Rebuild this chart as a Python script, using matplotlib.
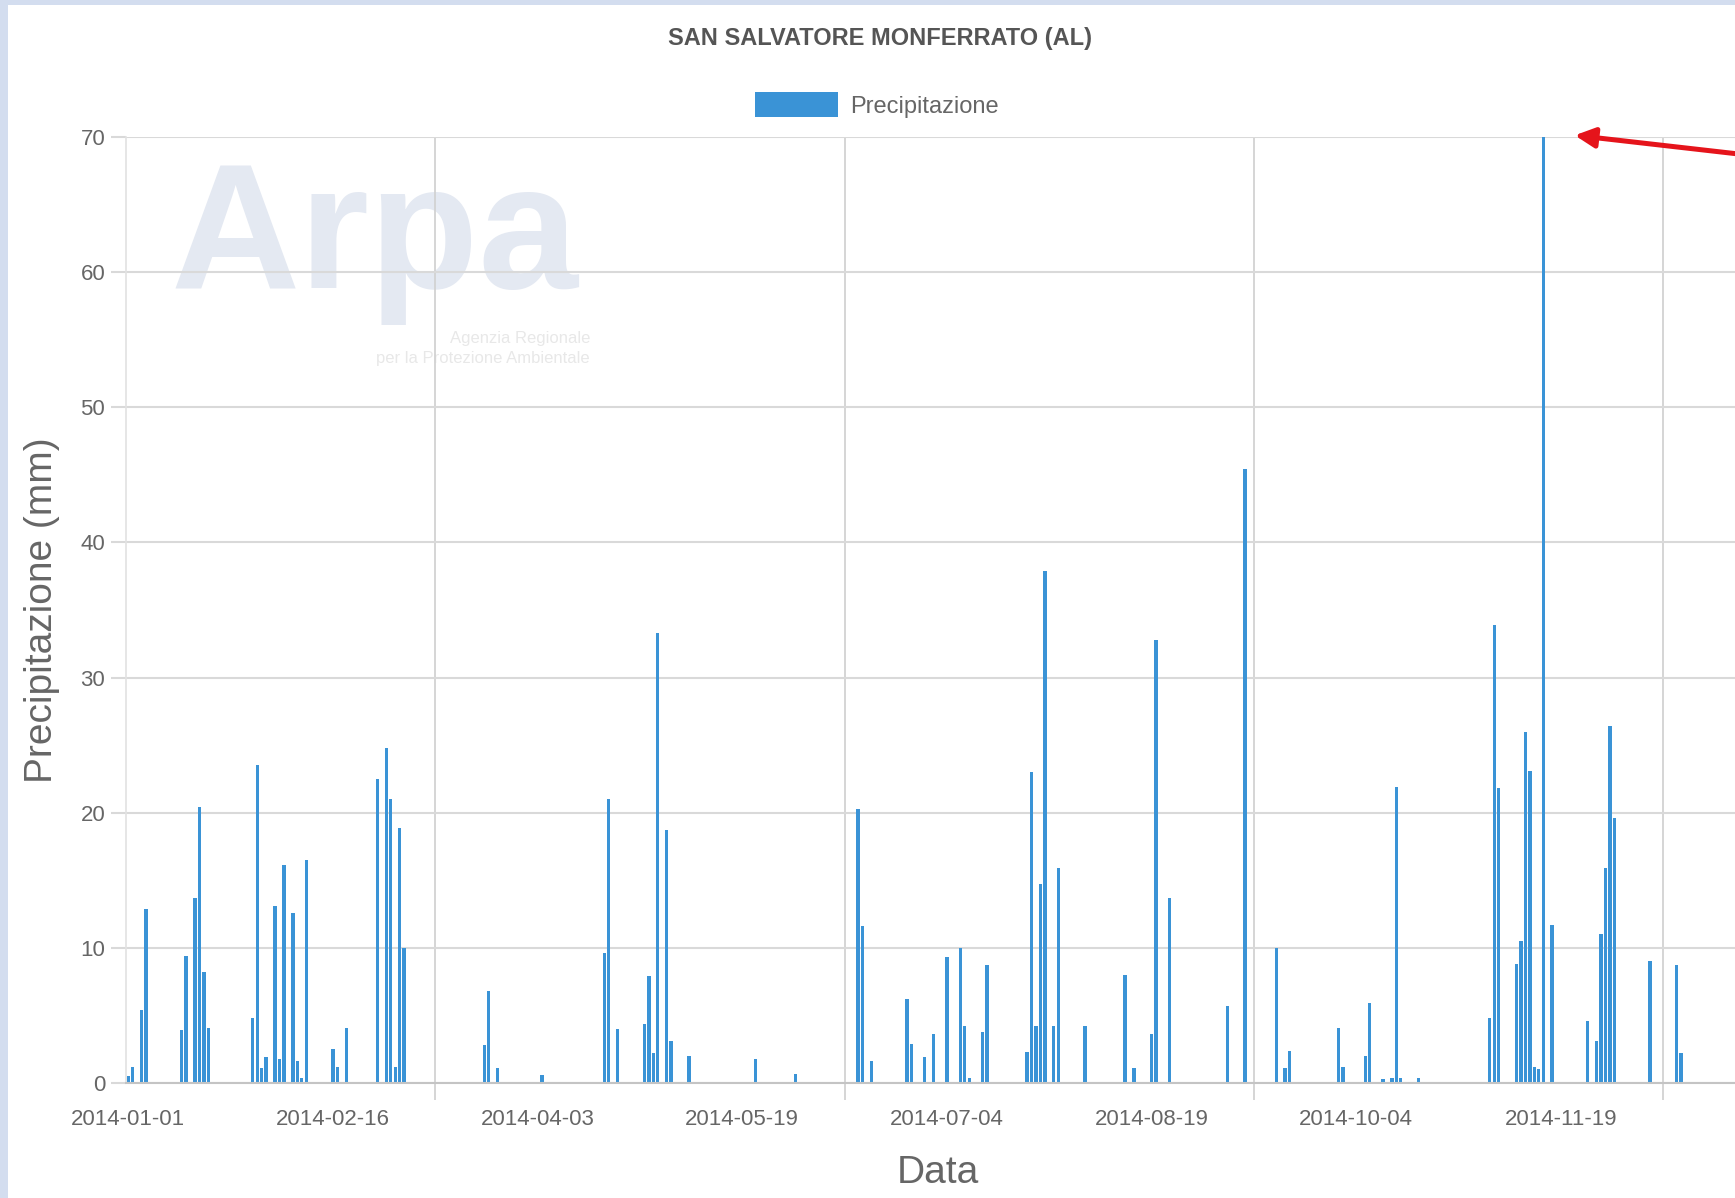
import numpy as np
import pandas as pd
import matplotlib
matplotlib.use('Agg')
import matplotlib.pyplot as plt
import matplotlib.dates as mdates
from matplotlib.patches import Rectangle, FancyArrowPatch
from matplotlib.ticker import FixedLocator


W, H = 1735, 1198

DATES = ['2014-01-01', '2014-01-02', '2014-01-04', '2014-01-05', '2014-01-13', '2014-01-14',
         '2014-01-16', '2014-01-17', '2014-01-18', '2014-01-19', '2014-01-29', '2014-01-30',
         '2014-01-31', '2014-02-01', '2014-02-03', '2014-02-04', '2014-02-05', '2014-02-07',
         '2014-02-08', '2014-02-09', '2014-02-10', '2014-02-16', '2014-02-17', '2014-02-19',
         '2014-02-26', '2014-02-28', '2014-03-01', '2014-03-02', '2014-03-03', '2014-03-04',
         '2014-03-22', '2014-03-23', '2014-03-25', '2014-04-04', '2014-04-18', '2014-04-19',
         '2014-04-21', '2014-04-27', '2014-04-28', '2014-04-29', '2014-04-30', '2014-05-02',
         '2014-05-03', '2014-05-07', '2014-05-22', '2014-05-31', '2014-06-14', '2014-06-15',
         '2014-06-17', '2014-06-25', '2014-06-26', '2014-06-29', '2014-07-01', '2014-07-04',
         '2014-07-07', '2014-07-08', '2014-07-09', '2014-07-12', '2014-07-13', '2014-07-22',
         '2014-07-23', '2014-07-24', '2014-07-25', '2014-07-26', '2014-07-28', '2014-07-29',
         '2014-08-04', '2014-08-13', '2014-08-15', '2014-08-19', '2014-08-20', '2014-08-23',
         '2014-09-05', '2014-09-09', '2014-09-16', '2014-09-18', '2014-09-19', '2014-09-30',
         '2014-10-01', '2014-10-06', '2014-10-07', '2014-10-10', '2014-10-12', '2014-10-13',
         '2014-10-14', '2014-10-18', '2014-11-03', '2014-11-04', '2014-11-05', '2014-11-09',
         '2014-11-10', '2014-11-11', '2014-11-12', '2014-11-13', '2014-11-14', '2014-11-15',
         '2014-11-17', '2014-11-25', '2014-11-27', '2014-11-28', '2014-11-29', '2014-11-30',
         '2014-12-01', '2014-12-09', '2014-12-15', '2014-12-16']

RAIN_MM = [0.5, 1.2, 5.4, 12.9, 3.9, 9.4,
           13.7, 20.4, 8.2, 4.1, 4.8, 23.5,
           1.1, 1.9, 13.1, 1.8, 16.1, 12.6,
           1.6, 0.4, 16.5, 2.5, 1.2, 4.1,
           22.5, 24.8, 21.0, 1.2, 18.9, 10.0,
           2.8, 6.8, 1.1, 0.6, 9.6, 21.0,
           4.0, 4.4, 7.9, 2.2, 33.3, 18.7,
           3.1, 2.0, 1.8, 0.7, 20.3, 11.6,
           1.6, 6.2, 2.9, 1.9, 3.6, 9.3,
           10.0, 4.2, 0.4, 3.8, 8.7, 2.3,
           23.0, 4.2, 14.7, 37.9, 4.2, 15.9,
           4.2, 8.0, 1.1, 3.6, 32.8, 13.7,
           5.7, 45.4, 10.0, 1.1, 2.4, 4.1,
           1.2, 2.0, 5.9, 0.3, 0.4, 21.9,
           0.4, 0.4, 4.8, 33.9, 21.8, 8.8,
           10.5, 26.0, 23.1, 1.2, 1.0, 70.0,
           11.7, 4.6, 3.1, 11.0, 15.9, 26.4,
           19.6, 9.0, 8.7, 2.2]

TICK_DATES = ['2014-01-01', '2014-02-16', '2014-04-03', '2014-05-19',
              '2014-07-04', '2014-08-19', '2014-10-04', '2014-11-19']
GRID_DATES = ['2014-03-11', '2014-06-11', '2014-09-11', '2014-12-12']
Y_TICKS = [0, 10, 20, 30, 40, 50, 60, 70]

TITLE = 'SAN SALVATORE MONFERRATO (AL)'
SERIES = 'Precipitazione'

plt.rcParams['font.family'] = ['Liberation Sans', 'DejaVu Sans']

BAR_COLOR = '#3a93d6'
GRID_COLOR = '#d9d9d9'
TEXT_COLOR = '#666666'

fig = plt.figure(figsize=(W / 100, H / 100), dpi=100)
fig.patch.set_facecolor('white')

# light blue frame of the screenshot
fig.add_artist(Rectangle((0, 0), 8 / W, 1, transform=fig.transFigure,
                         facecolor='#d3ddef', edgecolor='none', zorder=-5))
fig.add_artist(Rectangle((0, 1 - 5 / H), 1, 5 / H, transform=fig.transFigure,
                         facecolor='#d3ddef', edgecolor='none', zorder=-5))

ax = fig.add_axes([126 / W, (H - 1083) / H, (W - 126) / W, (1083 - 137) / H])

x = mdates.date2num(pd.to_datetime(DATES))
bars = ax.bar(x, RAIN_MM, width=0.75, color=BAR_COLOR, edgecolor='none', zorder=2)

start = mdates.date2num(pd.Timestamp('2014-01-01'))
ax.set_xlim(start - 0.5, start + 361.1)
ax.set_ylim(0, 70)

ax.set_xticks(mdates.date2num(pd.to_datetime(TICK_DATES)))
ax.set_xticklabels(TICK_DATES)
ax.xaxis.set_minor_locator(FixedLocator(mdates.date2num(pd.to_datetime(GRID_DATES))))
ax.set_yticks(Y_TICKS)
ax.set_yticklabels([str(v) for v in Y_TICKS])

ax.set_axisbelow(True)
ax.grid(axis='y', which='major', color=GRID_COLOR, lw=1.5)
ax.grid(axis='x', which='minor', color='#d2d2d2', lw=1.3)
ax.grid(axis='x', which='major', visible=False)

ax.tick_params(axis='x', which='major', length=0, pad=19, labelsize=16, labelcolor=TEXT_COLOR)
ax.tick_params(axis='x', which='minor', length=12, width=1.3, color='#d2d2d2')
ax.tick_params(axis='y', length=11, width=1.5, color=GRID_COLOR, pad=4,
               labelsize=16, labelcolor=TEXT_COLOR)

for side in ['top', 'right']:
    ax.spines[side].set_visible(False)
ax.spines['left'].set_color('#e2e2e2')
ax.spines['left'].set_linewidth(1.2)
ax.spines['bottom'].set_color('#c4c4c4')
ax.spines['bottom'].set_linewidth(1.5)

# faint Arpa watermark
ax.text(171 / W, 1 - 288 / H, 'Arpa', transform=fig.transFigure, fontsize=129,
        fontweight='bold', color='#e4e9f2', ha='left', va='baseline', zorder=0.2)
ax.text(590 / W, 1 - 338 / H, 'Agenzia Regionale', transform=fig.transFigure,
        fontsize=12, color='#e8e8e8', ha='right', va='center', zorder=0.2)
ax.text(590 / W, 1 - 358 / H, 'per la Protezione Ambientale', transform=fig.transFigure,
        fontsize=12, color='#e8e8e8', ha='right', va='center', zorder=0.2)

fig.text(880 / W, 1 - 39 / H, TITLE, ha='center', va='center', fontsize=17,
         fontweight='bold', color='#555555')
fig.legend(handles=[bars], labels=[SERIES], loc='center',
           bbox_to_anchor=(877 / W, 1 - 105 / H), frameon=False, fontsize=17,
           handlelength=3.5, handleheight=1.2, handletextpad=0.55, labelcolor=TEXT_COLOR)

fig.text(42 / W, 1 - 610 / H, 'Precipitazione (mm)', rotation=90, ha='center', va='center',
         fontsize=28, color=TEXT_COLOR)
fig.text(938 / W, 1 - 1173 / H, 'Data', ha='center', va='center', fontsize=28, color=TEXT_COLOR)

# red arrow pointing at the 70 mm peak
arrow = FancyArrowPatch((1800 / W, 1 - 161 / H), (1572 / W, 1 - 135 / H),
                        transform=fig.transFigure, arrowstyle='-|>', mutation_scale=30,
                        lw=3.6, color='#e5141b', zorder=10)
fig.add_artist(arrow)

fig.savefig('out.png', dpi=100)
